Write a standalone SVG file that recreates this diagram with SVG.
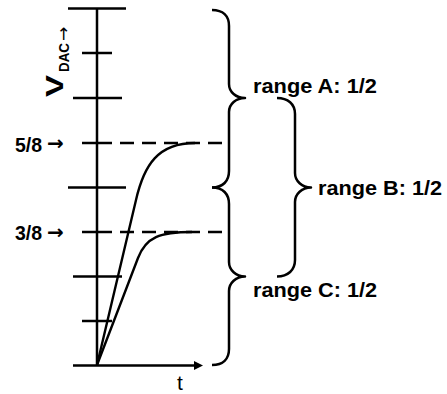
<svg xmlns="http://www.w3.org/2000/svg" width="447" height="394" viewBox="0 0 447 394">
<style>
.ln{stroke:#000;stroke-width:2.5;fill:none;stroke-linecap:butt}
.cv{stroke:#000;stroke-width:2.4;fill:none;stroke-linejoin:round}
.ds{stroke:#000;stroke-width:2.3;fill:none;stroke-dasharray:14 8}
.br{stroke:#000;stroke-width:2.5;fill:none;stroke-linejoin:round}
.b{font-family:"Liberation Sans",Arial,sans-serif;font-weight:bold;fill:#000}
.r{font-family:"Liberation Sans",Arial,sans-serif;fill:#000}
.ar{font-family:"DejaVu Sans",sans-serif}
</style>
<rect width="447" height="394" fill="#fff"/>
<g id="axis">
<line class="ln" x1="97" y1="8" x2="97" y2="366"/>
<line class="ln" x1="73" y1="365.5" x2="196" y2="365.5"/>
<polygon points="203,365.5 194,361 194,370" fill="#000"/>
</g>
<g id="ticks">
<line class="ln" x1="68" y1="8.5" x2="126" y2="8.5"/>
<line class="ln" x1="82" y1="53" x2="112" y2="53"/>
<line class="ln" x1="73" y1="98" x2="122" y2="98"/>
<line class="ln" x1="82" y1="143" x2="112" y2="143"/>
<line class="ln" x1="68" y1="187.5" x2="126" y2="187.5"/>
<line class="ln" x1="82" y1="232" x2="112" y2="232"/>
<line class="ln" x1="73" y1="276.5" x2="122" y2="276.5"/>
<line class="ln" x1="82" y1="321" x2="112" y2="321"/>
</g>
<g id="dashes">
<line class="ds" x1="120" y1="143" x2="228" y2="143"/>
<line class="ds" x1="120" y1="232" x2="228" y2="232"/>
</g>
<g id="curves">
<path class="cv" d="M97,365 L136,200 C144,165 158,143 195,143"/>
<path class="cv" d="M97,365 L138,258 C146,237 160,232 192,232"/>
</g>
<g id="braces">
<path class="br" d="M212,10 C223,10 229,16 229,26 L229,84 C229,92 236,98 245,98 C236,98 229,104 229,112 L229,171 C229,181 223,187.5 212,187.5"/>
<path class="br" d="M212,187.5 C223,187.5 229,194 229,204 L229,262 C229,270 236,276.5 245,276.5 C236,276.5 229,283 229,291 L229,349 C229,359 223,365 212,365"/>
<path class="br" d="M277,98 C288,98 295,104 295,114 L295,173 C295,181 302,187.5 311,187.5 C302,187.5 295,194 295,202 L295,260 C295,270 288,276.5 277,276.5"/>
</g>
<g id="labels">
<text class="b" x="253" y="93" font-size="19.5" textLength="124" lengthAdjust="spacingAndGlyphs">range A: 1/2</text>
<text class="b" x="318" y="195" font-size="19.5" textLength="124" lengthAdjust="spacingAndGlyphs">range B: 1/2</text>
<text class="b" x="253" y="297" font-size="19.5" textLength="124" lengthAdjust="spacingAndGlyphs">range C: 1/2</text>
<text class="b" x="15" y="151.5" font-size="19.5">5/8 <tspan class="ar" x="47" y="150" font-size="20">→</tspan></text>
<text class="b" x="15" y="240" font-size="19.5">3/8 <tspan class="ar" x="47" y="238.5" font-size="20">→</tspan></text>
<text class="r" x="180" y="390" font-size="21" text-anchor="middle">t</text>
<g id="vdac" transform="translate(63,97) rotate(-90)">
<text class="b" x="0" y="0" font-size="23" textLength="22" lengthAdjust="spacingAndGlyphs">V</text>
<text class="b" x="25" y="5.5" font-size="15" textLength="29" lengthAdjust="spacingAndGlyphs">DAC</text>
<text class="ar" x="56" y="6" font-size="17" font-weight="normal">→</text>
</g>
</g>
</svg>
